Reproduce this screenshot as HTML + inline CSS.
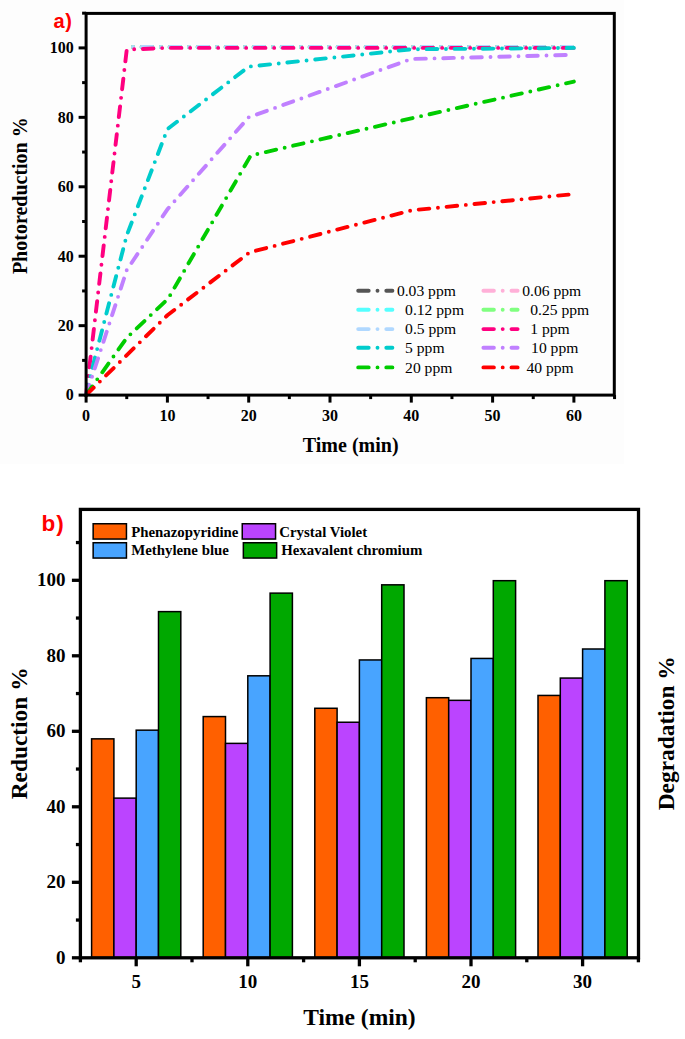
<!DOCTYPE html>
<html><head><meta charset="utf-8"><style>
html,body{margin:0;padding:0;background:#fff;}
body{width:685px;height:1039px;overflow:hidden;}
svg{display:block;}
</style></head><body>
<svg width="685" height="1039" viewBox="0 0 685 1039">
<rect x="0" y="0" width="685" height="1039" fill="#ffffff"/>
<rect x="0" y="0" width="624" height="464" fill="#FDFDFD"/>
<polyline points="126.75,47.90 167.40,47.90 248.70,47.90 411.30,47.90 573.90,47.90" transform="translate(-1.2,-1)" fill="none" stroke="#555555" stroke-width="3.9" stroke-linecap="round" stroke-linejoin="round" stroke-dasharray="10.6 8.7 0 8.7" stroke-dashoffset="347.84737715843136"/>
<polyline points="126.75,47.90 167.40,47.90 248.70,47.90 411.30,47.90 573.90,47.90" transform="translate(-1.2,-1)" fill="none" stroke="#FFB0D8" stroke-width="3.9" stroke-linecap="round" stroke-linejoin="round" stroke-dasharray="10.6 8.7 0 8.7" stroke-dashoffset="347.84737715843136"/>
<polyline points="126.75,47.90 167.40,47.90 248.70,47.90 411.30,47.90 573.90,47.90" transform="translate(-1.2,-1)" fill="none" stroke="#55FFFF" stroke-width="3.9" stroke-linecap="round" stroke-linejoin="round" stroke-dasharray="10.6 8.7 0 8.7" stroke-dashoffset="347.84737715843136"/>
<polyline points="126.75,47.90 167.40,47.90 248.70,47.90 411.30,47.90 573.90,47.90" transform="translate(-1.2,-1)" fill="none" stroke="#80FF80" stroke-width="3.9" stroke-linecap="round" stroke-linejoin="round" stroke-dasharray="10.6 8.7 0 8.7" stroke-dashoffset="347.84737715843136"/>
<polyline points="126.75,47.90 167.40,47.90 248.70,47.90 411.30,47.90 573.90,47.90" transform="translate(-1.2,-1)" fill="none" stroke="#B0D8FF" stroke-width="3.9" stroke-linecap="round" stroke-linejoin="round" stroke-dasharray="10.6 8.7 0 8.7" stroke-dashoffset="347.84737715843136"/>
<polyline points="86.10,395.10 126.75,49.64 167.40,47.90 248.70,47.90 411.30,47.90 573.90,47.90" fill="none" stroke="#FF0080" stroke-width="3.9" stroke-linecap="round" stroke-linejoin="round" stroke-dasharray="10.6 8.7 0 8.7" stroke-dashoffset="0"/>
<polyline points="86.10,395.10 94.23,360.38 126.75,235.39 167.40,129.14 248.70,66.65 411.30,49.29 573.90,47.90" fill="none" stroke="#00CCCC" stroke-width="3.9" stroke-linecap="round" stroke-linejoin="round" stroke-dasharray="10.6 8.7 0 8.7" stroke-dashoffset="0"/>
<polyline points="86.10,395.10 126.75,270.11 167.40,209.35 248.70,117.34 411.30,59.01 573.90,54.84" fill="none" stroke="#C080FF" stroke-width="3.9" stroke-linecap="round" stroke-linejoin="round" stroke-dasharray="10.6 8.7 0 8.7" stroke-dashoffset="0"/>
<polyline points="86.10,395.10 126.75,337.81 168.21,298.58 250.73,155.53 411.30,118.38 573.90,81.58" fill="none" stroke="#00CC00" stroke-width="3.9" stroke-linecap="round" stroke-linejoin="round" stroke-dasharray="10.6 8.7 0 8.7" stroke-dashoffset="0"/>
<polyline points="86.10,395.10 167.40,315.24 249.51,252.40 411.30,210.39 573.90,194.07" fill="none" stroke="#FF0000" stroke-width="3.9" stroke-linecap="round" stroke-linejoin="round" stroke-dasharray="10.6 8.7 0 8.7" stroke-dashoffset="0"/>
<rect x="86.1" y="13.4" width="528.1999999999999" height="381.70000000000005" fill="none" stroke="#000" stroke-width="3"/>
<line x1="78.6" y1="395.10" x2="86.1" y2="395.10" stroke="#000" stroke-width="3"/>
<line x1="82.1" y1="360.38" x2="86.1" y2="360.38" stroke="#000" stroke-width="3"/>
<line x1="78.6" y1="325.66" x2="86.1" y2="325.66" stroke="#000" stroke-width="3"/>
<line x1="82.1" y1="290.94" x2="86.1" y2="290.94" stroke="#000" stroke-width="3"/>
<line x1="78.6" y1="256.22" x2="86.1" y2="256.22" stroke="#000" stroke-width="3"/>
<line x1="82.1" y1="221.50" x2="86.1" y2="221.50" stroke="#000" stroke-width="3"/>
<line x1="78.6" y1="186.78" x2="86.1" y2="186.78" stroke="#000" stroke-width="3"/>
<line x1="82.1" y1="152.06" x2="86.1" y2="152.06" stroke="#000" stroke-width="3"/>
<line x1="78.6" y1="117.34" x2="86.1" y2="117.34" stroke="#000" stroke-width="3"/>
<line x1="82.1" y1="82.62" x2="86.1" y2="82.62" stroke="#000" stroke-width="3"/>
<line x1="78.6" y1="47.90" x2="86.1" y2="47.90" stroke="#000" stroke-width="3"/>
<line x1="82.1" y1="13.18" x2="86.1" y2="13.18" stroke="#000" stroke-width="3"/>
<line x1="86.10" y1="395.1" x2="86.10" y2="402.6" stroke="#000" stroke-width="3"/>
<line x1="126.75" y1="395.1" x2="126.75" y2="399.1" stroke="#000" stroke-width="3"/>
<line x1="167.40" y1="395.1" x2="167.40" y2="402.6" stroke="#000" stroke-width="3"/>
<line x1="208.05" y1="395.1" x2="208.05" y2="399.1" stroke="#000" stroke-width="3"/>
<line x1="248.70" y1="395.1" x2="248.70" y2="402.6" stroke="#000" stroke-width="3"/>
<line x1="289.35" y1="395.1" x2="289.35" y2="399.1" stroke="#000" stroke-width="3"/>
<line x1="330.00" y1="395.1" x2="330.00" y2="402.6" stroke="#000" stroke-width="3"/>
<line x1="370.65" y1="395.1" x2="370.65" y2="399.1" stroke="#000" stroke-width="3"/>
<line x1="411.30" y1="395.1" x2="411.30" y2="402.6" stroke="#000" stroke-width="3"/>
<line x1="451.95" y1="395.1" x2="451.95" y2="399.1" stroke="#000" stroke-width="3"/>
<line x1="492.60" y1="395.1" x2="492.60" y2="402.6" stroke="#000" stroke-width="3"/>
<line x1="533.25" y1="395.1" x2="533.25" y2="399.1" stroke="#000" stroke-width="3"/>
<line x1="573.90" y1="395.1" x2="573.90" y2="402.6" stroke="#000" stroke-width="3"/>
<line x1="614.55" y1="395.1" x2="614.55" y2="399.1" stroke="#000" stroke-width="3"/>
<text x="73.7" y="400.40" text-anchor="end" style="font-family:&quot;Liberation Serif&quot;,serif;font-weight:bold;font-size:16px">0</text>
<text x="73.7" y="330.96" text-anchor="end" style="font-family:&quot;Liberation Serif&quot;,serif;font-weight:bold;font-size:16px">20</text>
<text x="73.7" y="261.52" text-anchor="end" style="font-family:&quot;Liberation Serif&quot;,serif;font-weight:bold;font-size:16px">40</text>
<text x="73.7" y="192.08" text-anchor="end" style="font-family:&quot;Liberation Serif&quot;,serif;font-weight:bold;font-size:16px">60</text>
<text x="73.7" y="122.64" text-anchor="end" style="font-family:&quot;Liberation Serif&quot;,serif;font-weight:bold;font-size:16px">80</text>
<text x="73.7" y="53.20" text-anchor="end" style="font-family:&quot;Liberation Serif&quot;,serif;font-weight:bold;font-size:16px">100</text>
<text x="86.10" y="420.5" text-anchor="middle" style="font-family:&quot;Liberation Serif&quot;,serif;font-weight:bold;font-size:16px">0</text>
<text x="167.40" y="420.5" text-anchor="middle" style="font-family:&quot;Liberation Serif&quot;,serif;font-weight:bold;font-size:16px">10</text>
<text x="248.70" y="420.5" text-anchor="middle" style="font-family:&quot;Liberation Serif&quot;,serif;font-weight:bold;font-size:16px">20</text>
<text x="330.00" y="420.5" text-anchor="middle" style="font-family:&quot;Liberation Serif&quot;,serif;font-weight:bold;font-size:16px">30</text>
<text x="411.30" y="420.5" text-anchor="middle" style="font-family:&quot;Liberation Serif&quot;,serif;font-weight:bold;font-size:16px">40</text>
<text x="492.60" y="420.5" text-anchor="middle" style="font-family:&quot;Liberation Serif&quot;,serif;font-weight:bold;font-size:16px">50</text>
<text x="573.90" y="420.5" text-anchor="middle" style="font-family:&quot;Liberation Serif&quot;,serif;font-weight:bold;font-size:16px">60</text>
<text x="350.7" y="452.1" text-anchor="middle" style="font-family:&quot;Liberation Serif&quot;,serif;font-weight:bold;font-size:20px">Time (min)</text>
<text transform="translate(27.1,195.7) rotate(-90)" text-anchor="middle" style="font-family:&quot;Liberation Serif&quot;,serif;font-weight:bold;font-size:20px">Photoreduction %</text>
<text x="53.6" y="28.3" style="font-family:&quot;Liberation Sans&quot;,sans-serif;font-weight:bold;font-size:20px;letter-spacing:0.6px;fill:#FF0000">a)</text>
<line x1="358.2" y1="290.7" x2="392.4" y2="290.7" stroke="#555555" stroke-width="3.9" stroke-linecap="round" stroke-dasharray="10.5 8.8 0 8.8"/>
<text x="396.9" y="295.80" style="font-family:&quot;Liberation Serif&quot;,serif;font-size:15.6px">0.03 ppm</text>
<line x1="358.2" y1="309.7" x2="392.4" y2="309.7" stroke="#55FFFF" stroke-width="3.9" stroke-linecap="round" stroke-dasharray="10.5 8.8 0 8.8"/>
<text x="405.1" y="314.80" style="font-family:&quot;Liberation Serif&quot;,serif;font-size:15.6px">0.12 ppm</text>
<line x1="358.2" y1="329.1" x2="392.4" y2="329.1" stroke="#B0D8FF" stroke-width="3.9" stroke-linecap="round" stroke-dasharray="10.5 8.8 0 8.8"/>
<text x="405.1" y="334.20" style="font-family:&quot;Liberation Serif&quot;,serif;font-size:15.6px">0.5 ppm</text>
<line x1="358.2" y1="347.7" x2="392.4" y2="347.7" stroke="#00CCCC" stroke-width="3.9" stroke-linecap="round" stroke-dasharray="10.5 8.8 0 8.8"/>
<text x="405.1" y="352.80" style="font-family:&quot;Liberation Serif&quot;,serif;font-size:15.6px">5 ppm</text>
<line x1="358.2" y1="367.4" x2="392.4" y2="367.4" stroke="#00CC00" stroke-width="3.9" stroke-linecap="round" stroke-dasharray="10.5 8.8 0 8.8"/>
<text x="405.1" y="372.50" style="font-family:&quot;Liberation Serif&quot;,serif;font-size:15.6px">20 ppm</text>
<line x1="483.4" y1="290.7" x2="517.6" y2="290.7" stroke="#FFB0D8" stroke-width="3.9" stroke-linecap="round" stroke-dasharray="10.5 8.8 0 8.8"/>
<text x="522.2" y="295.80" style="font-family:&quot;Liberation Serif&quot;,serif;font-size:15.6px">0.06 ppm</text>
<line x1="483.4" y1="309.7" x2="517.6" y2="309.7" stroke="#80FF80" stroke-width="3.9" stroke-linecap="round" stroke-dasharray="10.5 8.8 0 8.8"/>
<text x="530.3" y="314.80" style="font-family:&quot;Liberation Serif&quot;,serif;font-size:15.6px">0.25 ppm</text>
<line x1="483.4" y1="329.1" x2="517.6" y2="329.1" stroke="#FF0080" stroke-width="3.9" stroke-linecap="round" stroke-dasharray="10.5 8.8 0 8.8"/>
<text x="530.3" y="334.20" style="font-family:&quot;Liberation Serif&quot;,serif;font-size:15.6px">1 ppm</text>
<line x1="483.4" y1="347.7" x2="517.6" y2="347.7" stroke="#C080FF" stroke-width="3.9" stroke-linecap="round" stroke-dasharray="10.5 8.8 0 8.8"/>
<text x="531.1" y="352.80" style="font-family:&quot;Liberation Serif&quot;,serif;font-size:15.6px">10 ppm</text>
<line x1="483.4" y1="367.4" x2="517.6" y2="367.4" stroke="#FF0000" stroke-width="3.9" stroke-linecap="round" stroke-dasharray="10.5 8.8 0 8.8"/>
<text x="526.5" y="372.50" style="font-family:&quot;Liberation Serif&quot;,serif;font-size:15.6px">40 ppm</text>
<rect x="91.60" y="738.85" width="22.30" height="218.95" fill="#FF6000" stroke="#000" stroke-width="1.5"/>
<rect x="113.90" y="798.12" width="22.30" height="159.68" fill="#BB44FF" stroke="#000" stroke-width="1.5"/>
<rect x="136.20" y="730.17" width="22.30" height="227.63" fill="#48A4FF" stroke="#000" stroke-width="1.5"/>
<rect x="158.50" y="611.63" width="22.30" height="346.17" fill="#00A800" stroke="#000" stroke-width="1.5"/>
<rect x="203.20" y="716.58" width="22.30" height="241.22" fill="#FF6000" stroke="#000" stroke-width="1.5"/>
<rect x="225.50" y="743.38" width="22.30" height="214.42" fill="#BB44FF" stroke="#000" stroke-width="1.5"/>
<rect x="247.80" y="675.81" width="22.30" height="281.99" fill="#48A4FF" stroke="#000" stroke-width="1.5"/>
<rect x="270.10" y="593.13" width="22.30" height="364.66" fill="#00A800" stroke="#000" stroke-width="1.5"/>
<rect x="314.80" y="708.27" width="22.30" height="249.53" fill="#FF6000" stroke="#000" stroke-width="1.5"/>
<rect x="337.10" y="722.24" width="22.30" height="235.56" fill="#BB44FF" stroke="#000" stroke-width="1.5"/>
<rect x="359.40" y="659.95" width="22.30" height="297.85" fill="#48A4FF" stroke="#000" stroke-width="1.5"/>
<rect x="381.70" y="584.83" width="22.30" height="372.97" fill="#00A800" stroke="#000" stroke-width="1.5"/>
<rect x="426.40" y="697.70" width="22.30" height="260.10" fill="#FF6000" stroke="#000" stroke-width="1.5"/>
<rect x="448.70" y="700.35" width="22.30" height="257.45" fill="#BB44FF" stroke="#000" stroke-width="1.5"/>
<rect x="471.00" y="658.44" width="22.30" height="299.36" fill="#48A4FF" stroke="#000" stroke-width="1.5"/>
<rect x="493.30" y="580.68" width="22.30" height="377.12" fill="#00A800" stroke="#000" stroke-width="1.5"/>
<rect x="538.00" y="695.44" width="22.30" height="262.36" fill="#FF6000" stroke="#000" stroke-width="1.5"/>
<rect x="560.30" y="678.07" width="22.30" height="279.73" fill="#BB44FF" stroke="#000" stroke-width="1.5"/>
<rect x="582.60" y="649.00" width="22.30" height="308.79" fill="#48A4FF" stroke="#000" stroke-width="1.5"/>
<rect x="604.90" y="580.68" width="22.30" height="377.12" fill="#00A800" stroke="#000" stroke-width="1.5"/>
<rect x="80.4" y="509.4" width="558.1" height="448.4" fill="none" stroke="#000" stroke-width="3.3"/>
<line x1="71.9" y1="957.80" x2="80.4" y2="957.80" stroke="#000" stroke-width="3.3"/>
<line x1="75.9" y1="920.05" x2="80.4" y2="920.05" stroke="#000" stroke-width="3.3"/>
<line x1="71.9" y1="882.30" x2="80.4" y2="882.30" stroke="#000" stroke-width="3.3"/>
<line x1="75.9" y1="844.55" x2="80.4" y2="844.55" stroke="#000" stroke-width="3.3"/>
<line x1="71.9" y1="806.80" x2="80.4" y2="806.80" stroke="#000" stroke-width="3.3"/>
<line x1="75.9" y1="769.05" x2="80.4" y2="769.05" stroke="#000" stroke-width="3.3"/>
<line x1="71.9" y1="731.30" x2="80.4" y2="731.30" stroke="#000" stroke-width="3.3"/>
<line x1="75.9" y1="693.55" x2="80.4" y2="693.55" stroke="#000" stroke-width="3.3"/>
<line x1="71.9" y1="655.80" x2="80.4" y2="655.80" stroke="#000" stroke-width="3.3"/>
<line x1="75.9" y1="618.05" x2="80.4" y2="618.05" stroke="#000" stroke-width="3.3"/>
<line x1="71.9" y1="580.30" x2="80.4" y2="580.30" stroke="#000" stroke-width="3.3"/>
<line x1="75.9" y1="542.55" x2="80.4" y2="542.55" stroke="#000" stroke-width="3.3"/>
<line x1="136.20" y1="957.8" x2="136.20" y2="966.3" stroke="#000" stroke-width="3.3"/>
<line x1="247.80" y1="957.8" x2="247.80" y2="966.3" stroke="#000" stroke-width="3.3"/>
<line x1="359.40" y1="957.8" x2="359.40" y2="966.3" stroke="#000" stroke-width="3.3"/>
<line x1="471.00" y1="957.8" x2="471.00" y2="966.3" stroke="#000" stroke-width="3.3"/>
<line x1="582.60" y1="957.8" x2="582.60" y2="966.3" stroke="#000" stroke-width="3.3"/>
<line x1="80.40" y1="957.8" x2="80.40" y2="962.3" stroke="#000" stroke-width="3.3"/>
<line x1="192.00" y1="957.8" x2="192.00" y2="962.3" stroke="#000" stroke-width="3.3"/>
<line x1="303.60" y1="957.8" x2="303.60" y2="962.3" stroke="#000" stroke-width="3.3"/>
<line x1="415.20" y1="957.8" x2="415.20" y2="962.3" stroke="#000" stroke-width="3.3"/>
<line x1="526.80" y1="957.8" x2="526.80" y2="962.3" stroke="#000" stroke-width="3.3"/>
<line x1="638.40" y1="957.8" x2="638.40" y2="962.3" stroke="#000" stroke-width="3.3"/>
<text x="65.5" y="963.80" text-anchor="end" style="font-family:&quot;Liberation Serif&quot;,serif;font-weight:bold;font-size:19px">0</text>
<text x="65.5" y="888.30" text-anchor="end" style="font-family:&quot;Liberation Serif&quot;,serif;font-weight:bold;font-size:19px">20</text>
<text x="65.5" y="812.80" text-anchor="end" style="font-family:&quot;Liberation Serif&quot;,serif;font-weight:bold;font-size:19px">40</text>
<text x="65.5" y="737.30" text-anchor="end" style="font-family:&quot;Liberation Serif&quot;,serif;font-weight:bold;font-size:19px">60</text>
<text x="65.5" y="661.80" text-anchor="end" style="font-family:&quot;Liberation Serif&quot;,serif;font-weight:bold;font-size:19px">80</text>
<text x="65.5" y="586.30" text-anchor="end" style="font-family:&quot;Liberation Serif&quot;,serif;font-weight:bold;font-size:19px">100</text>
<text x="136.20" y="988" text-anchor="middle" style="font-family:&quot;Liberation Serif&quot;,serif;font-weight:bold;font-size:19px">5</text>
<text x="247.80" y="988" text-anchor="middle" style="font-family:&quot;Liberation Serif&quot;,serif;font-weight:bold;font-size:19px">10</text>
<text x="359.40" y="988" text-anchor="middle" style="font-family:&quot;Liberation Serif&quot;,serif;font-weight:bold;font-size:19px">15</text>
<text x="471.00" y="988" text-anchor="middle" style="font-family:&quot;Liberation Serif&quot;,serif;font-weight:bold;font-size:19px">20</text>
<text x="582.60" y="988" text-anchor="middle" style="font-family:&quot;Liberation Serif&quot;,serif;font-weight:bold;font-size:19px">30</text>
<text x="359.4" y="1024.5" text-anchor="middle" style="font-family:&quot;Liberation Serif&quot;,serif;font-weight:bold;font-size:23.5px">Time (min)</text>
<text transform="translate(27.3,733.4) rotate(-90)" text-anchor="middle" style="font-family:&quot;Liberation Serif&quot;,serif;font-weight:bold;font-size:23.4px">Reduction %</text>
<text transform="translate(673.8,733.3) rotate(-90)" text-anchor="middle" style="font-family:&quot;Liberation Serif&quot;,serif;font-weight:bold;font-size:23.4px">Degradation %</text>
<text x="41.5" y="531.3" style="font-family:&quot;Liberation Sans&quot;,sans-serif;font-weight:bold;font-size:22.5px;letter-spacing:1px;fill:#FF0000">b)</text>
<rect x="93.15" y="523.75" width="33.3" height="15.3" fill="#FF6000" stroke="#000" stroke-width="1.5"/>
<text x="131.2" y="536.6" style="font-family:&quot;Liberation Serif&quot;,serif;font-weight:bold;font-size:14.85px">Phenazopyridine</text>
<rect x="93.15" y="542.75" width="33.3" height="15.3" fill="#48A4FF" stroke="#000" stroke-width="1.5"/>
<text x="131.2" y="554.7" style="font-family:&quot;Liberation Serif&quot;,serif;font-weight:bold;font-size:14.85px">Methylene blue</text>
<rect x="242.25" y="523.75" width="33.3" height="15.3" fill="#BB44FF" stroke="#000" stroke-width="1.5"/>
<text x="279.3" y="536.6" style="font-family:&quot;Liberation Serif&quot;,serif;font-weight:bold;font-size:14.85px">Crystal Violet</text>
<rect x="243.35" y="542.75" width="33.3" height="15.3" fill="#00A800" stroke="#000" stroke-width="1.5"/>
<text x="281.2" y="554.7" style="font-family:&quot;Liberation Serif&quot;,serif;font-weight:bold;font-size:14.85px">Hexavalent chromium</text>
</svg>
</body></html>
